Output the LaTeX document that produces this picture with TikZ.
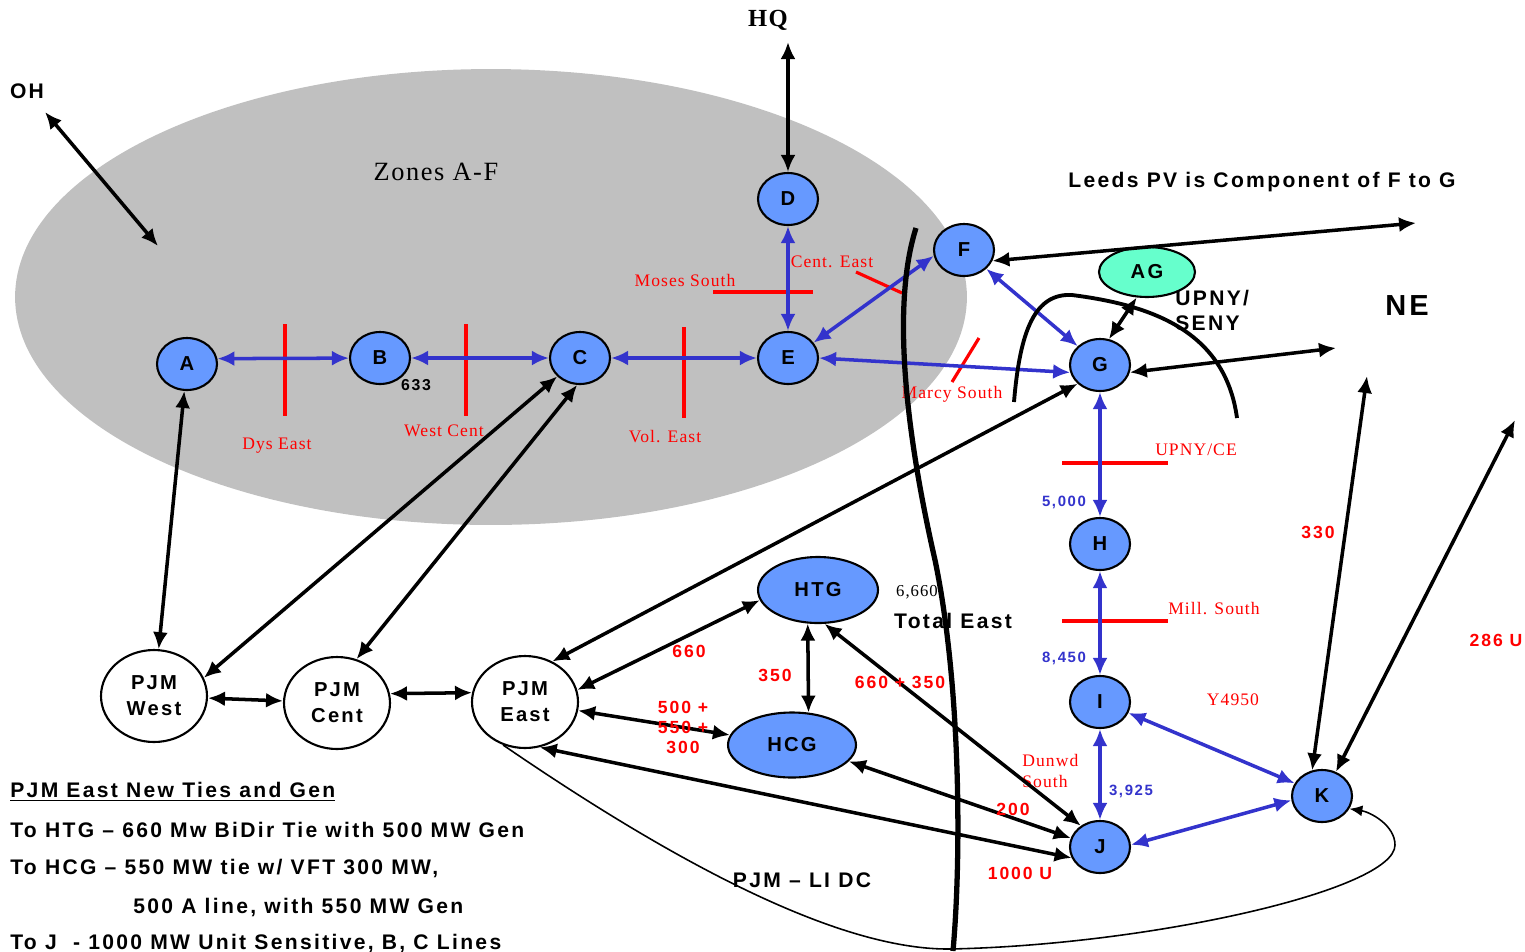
\documentclass[tikz,border=0pt]{standalone}
\usepackage{fontspec}
\setmainfont{Liberation Serif}[LetterSpace=6]
\setsansfont{Liberation Sans}[LetterSpace=11]
\usepackage{tikz}
\usetikzlibrary{arrows.meta,shapes.geometric}
\definecolor{zonegray}{RGB}{192,192,192}
\definecolor{nodeblue}{RGB}{102,153,255}
\definecolor{lineblue}{RGB}{51,51,204}
\definecolor{aggreen}{RGB}{102,255,204}

\begin{document}
\begin{tikzpicture}[x=0.02cm,y=-0.02cm,>={Latex[length=0.34cm,width=0.3cm]},line join=round]
  \tikzstyle{zone}=[ellipse,draw=black,line width=1.2pt,fill=nodeblue,
                    minimum width=1.2cm,minimum height=1.04cm,inner sep=0pt,
                    font=\sffamily\bfseries\fontsize{11.5}{14}\selectfont]
  \tikzstyle{pjm}=[zone,fill=white,minimum width=2.12cm,minimum height=1.84cm,
                   align=center,font=\sffamily\bfseries\fontsize{11.5}{14.8}\selectfont]
  \tikzstyle{tie}=[<->,draw=black,line width=2pt]
  \tikzstyle{link}=[<->,draw=lineblue,line width=2pt]
  \tikzstyle{cut}=[red,line width=1.8pt]
  \tikzstyle{cutlbl}=[red,inner sep=0pt,font=\fontsize{10}{12}\selectfont]
  \tikzstyle{mw}=[red,inner sep=0pt,font=\sffamily\bfseries\fontsize{10}{11.4}\selectfont]
  \tikzstyle{flow}=[lineblue,inner sep=0pt,font=\sffamily\bfseries\fontsize{8.5}{10}\selectfont]
  \tikzstyle{note}=[inner sep=0pt,font=\sffamily\bfseries\fontsize{12}{14.2}\selectfont]

  \useasboundingbox (0,0) rectangle (1525,951);

  % zones A-F area
  \node[ellipse,fill=zonegray,minimum width=19.04cm,minimum height=9.12cm] (zones) at (491,297) {};
  \node[inner sep=0pt,font=\fontsize{15}{17}\selectfont] (zlbl) at (436,172) {Zones A-F};

  % zones
  \node[zone] (A) at (187,364) {A};
  \node[zone] (B) at (380,358) {B};
  \node[zone] (C) at (580,358) {C};
  \node[zone] (D) at (788,199) {D};
  \node[zone] (E) at (788,358) {E};
  \node[zone] (F) at (964,250) {F};
  \node[zone] (G) at (1100,365) {G};
  \node[zone] (H) at (1100,544) {H};
  \node[zone] (I) at (1100,702) {I};
  \node[zone] (J) at (1100,847) {J};
  \node[zone] (K) at (1322,796) {K};
  \node[zone,fill=aggreen,minimum width=1.92cm,minimum height=1cm] (AG) at (1147,272) {AG};
  \node[zone,minimum width=2.4cm,minimum height=1.32cm] (HTG) at (818,590) {HTG};
  \node[zone,minimum width=2.56cm,minimum height=1.3cm] (HCG) at (792,745) {HCG};
  \node[pjm] (pjmw) at (154,696) {PJM\\West};
  \node[pjm] (pjmc) at (337,703) {PJM\\Cent};
  \node[pjm] (pjme) at (525,702) {PJM\\East};

  % outside ends
  \coordinate (hq) at (788,42);
  \coordinate (oh) at (45,112);
  \coordinate (ohin) at (158,246);
  \coordinate (fout) at (1416,223);
  \coordinate (gout) at (1336,348);
  \coordinate (kone) at (1367,376);
  \coordinate (ktwo) at (1515,420);

  % interfaces
  \draw[cut] (285,324) -- (285,416);
  \draw[cut] (466,324) -- (466,416);
  \draw[cut] (684,327) -- (684,418);
  \draw[cut] (713,292) -- (813,292);
  \draw[cut] (856,272) -- (902,293);
  \draw[cut] (952,382) -- (979,338);
  \draw[cut] (1062,463) -- (1168,463);
  \draw[cut] (1062,621) -- (1168,621);

  \node[cutlbl] (dys) at (277,446) {Dys East};
  \node[cutlbl] (wcent) at (444,431) {West Cent};
  \node[cutlbl] (vol) at (665,437) {Vol. East};
  \node[cutlbl] (moses) at (685,280) {Moses South};
  \node[cutlbl] (cente) at (832,262) {Cent. East};
  \node[cutlbl] (marcy) at (952,394) {Marcy South};
  \node[cutlbl] (upce) at (1196,450) {UPNY/CE};
  \node[cutlbl] (mill) at (1214,609) {Mill. South};
  \node[cutlbl] (y49) at (1233,700) {Y4950};
  \node[cutlbl,align=left,anchor=west] (dunwd) at (1022,771) {Dunwd\\South};

  % internal links
  \path (A.10) edge[link] (B)
        (B) edge[link] (C)
        (C) edge[link] (E)
        (D) edge[link] (E)
        (E.31) edge[link] (F.191)
        (E.east) edge[link] (G.-166)
        (F) edge[link] (G)
        (G) edge[link] (H)
        (H) edge[link] (I)
        (I) edge[link] (J)
        (I.-21) edge[link] (K.155)
        (J.4) edge[link] (K.-172);

  \node[flow] (fh) at (1064,502) {5,000};
  \node[flow] (fi) at (1064,658) {8,450};
  \node[flow] (fj) at (1131,791) {3,925};
  \node[inner sep=0pt,font=\sffamily\bfseries\fontsize{9}{10}\selectfont] (n633) at (416,385) {633};

  % ties
  \path (hq) edge[tie] (D)
        (oh) edge[tie] (ohin)
        (A) edge[tie] (pjmw)
        (C.-141) edge[tie] (pjmw.20)
        (C.-96) edge[tie] (pjmc.66)
        (G.-140) edge[tie] (pjme.56)
        (pjmw) edge[tie] (pjmc)
        (pjmc.10) edge[tie] (pjme.170)
        (pjme.13) edge[tie] (HTG.-170)
        (pjme) edge[tie] (HCG)
        (HTG.-107) edge[tie] (HCG.63)
        (HTG.-79) edge[tie] (J.132)
        (HCG.-16) edge[tie] (J.163)
        (pjme.-72) edge[tie] (J.-159)
        (F.-21) edge[tie] (fout)
        (G.-14) edge[tie] (gout)
        (AG.-112) edge[tie] (G.71)
        (K.111) edge[tie] (kone)
        (K.60) edge[tie] (ktwo);

  % PJM - LI DC
  \draw[-{Latex[length=0.26cm,width=0.22cm]},line width=0.9pt] (pjme.-117)
        .. controls (700,880) and (850,950) .. (950,949)
        .. controls (1150,945) and (1395,890) .. (1395,845)
        .. controls (1395,825) and (1370,812) .. (K.-25);

  \node[mw] (m660) at (689,651) {660};
  \node[mw] (m350) at (775,675) {350};
  \node[mw] (m1010) at (900,682) {660 + 350};
  \node[mw,align=center] (m1350) at (683,727) {500 +\\550 +\\300};
  \node[mw] (m200) at (1013,809) {200};
  \node[mw] (m1000) at (1020,873) {1000 U};
  \node[mw] (m330) at (1318,532) {330};
  \node[mw] (m286) at (1496,640) {286 U};
  \node[inner sep=0pt,font=\fontsize{9.5}{11}\selectfont] (tot) at (917,592) {6,660};
  \node[note] (total) at (953,621) {Total East};
  \node[note] (lidc) at (802,880) {PJM – LI DC};

  % boundaries
  \draw[line width=3pt] (916,228) .. controls (893,300) and (903,420) .. (935,560)
        .. controls (960,680) and (962,850) .. (953,951);
  \draw[line width=2.2pt] (1014,402) .. controls (1020,330) and (1035,293) .. (1072,295)
        .. controls (1150,305) and (1225,330) .. (1237,418);

  % names
  \node[inner sep=0pt,font=\bfseries\fontsize{14}{16}\selectfont] (hqlbl) at (768,20) {HQ};
  \node[note] (ohlbl) at (27,91) {OH};
  \node[note] (leeds) at (1262,182) {Leeds PV is Component of F to G};
  \node[note,align=left,anchor=west] (seny) at (1175,310) {UPNY/\\SENY};
  \node[inner sep=0pt,font=\sffamily\bfseries\fontsize{16.5}{18}\selectfont] (ne) at (1407,306) {NE};

  % notes
  \node[note,anchor=west] (n1) at (10,792) {\underline{PJM East New Ties and Gen}};
  \node[note,anchor=west] (n2) at (10,830) {To HTG – 660 Mw BiDir Tie with 500 MW Gen};
  \node[note,anchor=west] (n3) at (10,868) {To HCG – 550 MW tie w/ VFT 300 MW,};
  \node[note,anchor=west] (n4) at (133,907) {500 A line, with 550 MW Gen};
  \node[note,anchor=west] (n5) at (10,943) {To J\ \ - 1000 MW Unit Sensitive, B, C Lines};
\end{tikzpicture}
\end{document}
